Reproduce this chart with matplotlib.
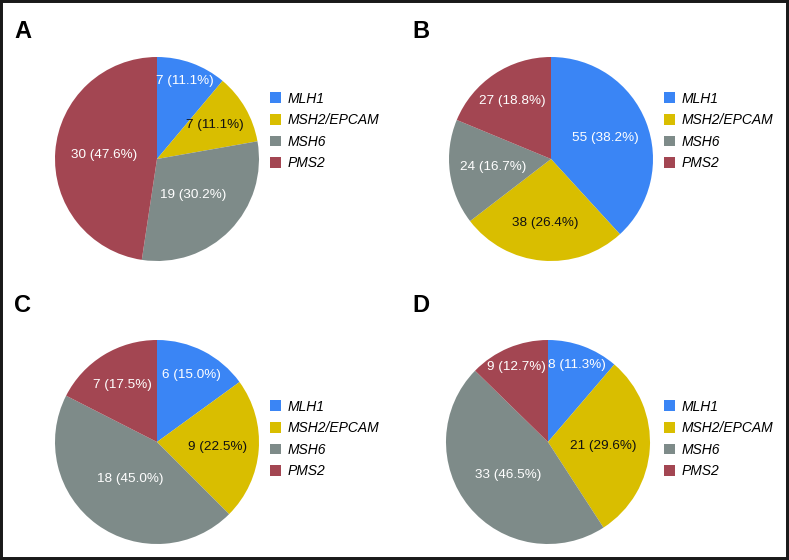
import numpy as np
import matplotlib
matplotlib.use("Agg")
import matplotlib.pyplot as plt
from matplotlib.patches import Patch, Rectangle

plt.rcParams["font.family"] = ["Liberation Sans", "DejaVu Sans"]

# ───────── data ─────────
genes   = ["MLH1", "MSH2/EPCAM", "MSH6", "PMS2"]
panels  = ["A", "B", "C", "D"]
counts_A = [7, 7, 19, 30]
counts_B = [55, 38, 24, 27]
counts_C = [6, 9, 18, 7]
counts_D = [8, 21, 33, 9]
all_counts = [counts_A, counts_B, counts_C, counts_D]

colors     = ["#3A85F5", "#D9BE00", "#7E8B89", "#A34652"]
txt_colors = ["white", "#111111", "white", "white"]

# label distance from centre (fraction of radius), per wedge
label_r = [[0.81, 0.66, 0.50, 0.52],
           [0.57, 0.63, 0.57, 0.68],
           [0.74, 0.60, 0.45, 0.65],
           [0.81, 0.54, 0.51, 0.80]]

W, H = 789, 560
fig = plt.figure(figsize=(W / 100, H / 100), dpi=100)

# pie centres / radius in pixels, legend anchors, letter anchors
centers = [(157, 159), (551, 159), (157, 442), (548, 442)]
R = 102
leg_xy = [(270, 131), (664, 131), (270, 439), (664, 439)]
let_xy = [(14, 38), (412, 38), (14, 312), (412, 312)]

for k, counts in enumerate(all_counts):
    cx, cy = centers[k]
    ax = fig.add_axes([(cx - R) / W, 1 - (cy + R) / H, 2 * R / W, 2 * R / H])
    wedges, _ = ax.pie(counts, colors=colors, startangle=90, counterclock=False,
                       radius=1, wedgeprops=dict(linewidth=0))
    ax.set_xlim(-1, 1)
    ax.set_ylim(-1, 1)
    total = sum(counts)
    for i, w in enumerate(wedges):
        mid = np.deg2rad((w.theta1 + w.theta2) / 2)
        r = label_r[k][i]
        ax.text(r * np.cos(mid), r * np.sin(mid),
                f"{counts[i]} ({counts[i] / total * 100:.1f}%)",
                ha="center", va="center", fontsize=9.7, color=txt_colors[i])

    handles = [Patch(facecolor=c, edgecolor="none") for c in colors]
    lx, ly = leg_xy[k]
    fig.legend(handles, genes, loc="center left",
               bbox_to_anchor=(lx / W, 1 - ly / H), frameon=False,
               borderpad=0, borderaxespad=0, handlelength=0.8, handleheight=0.8,
               handletextpad=0.45, labelspacing=0.55,
               prop=dict(size=10, style="italic"))

    tx, ty = let_xy[k]
    fig.text(tx / W, 1 - ty / H, panels[k], fontsize=17, fontweight="bold",
             ha="left", va="baseline")

# outer frame
fig.patches.append(Rectangle((0, 0), 1, 1, transform=fig.transFigure, fill=False,
                             edgecolor="#1a1a1a", linewidth=4.3, clip_on=False))

fig.savefig("out.png", dpi=100)
